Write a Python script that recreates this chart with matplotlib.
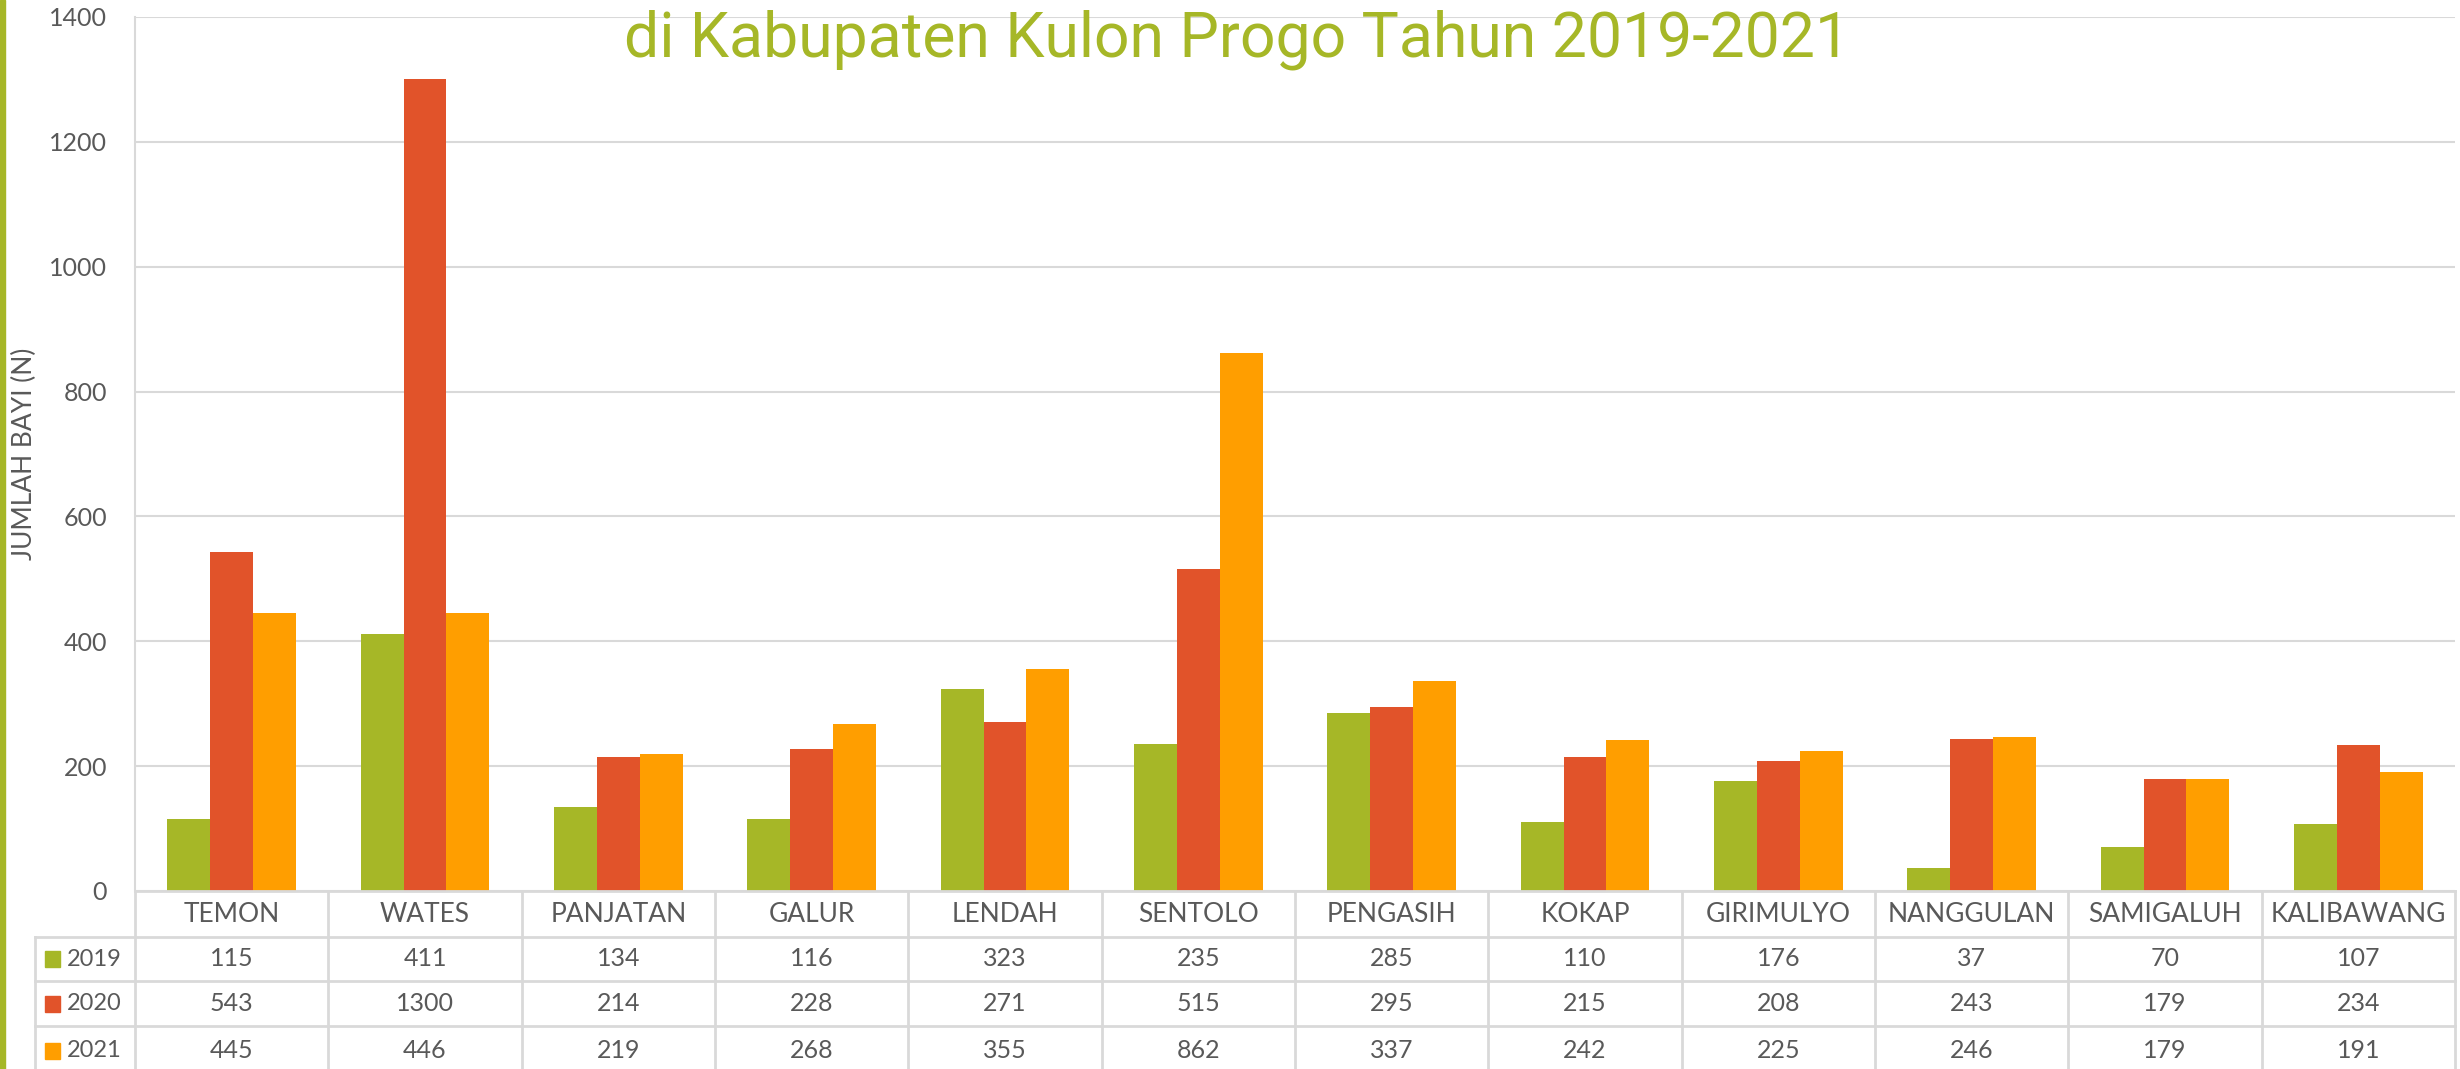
import numpy as np
import matplotlib
matplotlib.use("Agg")
import matplotlib.pyplot as plt
from matplotlib.patches import Rectangle
from matplotlib.lines import Line2D
import matplotlib.transforms as mtransforms

# data
kecamatan = ["TEMON", "WATES", "PANJATAN", "GALUR", "LENDAH", "SENTOLO",
             "PENGASIH", "KOKAP", "GIRIMULYO", "NANGGULAN", "SAMIGALUH", "KALIBAWANG"]
years = ["2019", "2020", "2021"]
bayi_2019 = [115, 411, 134, 116, 323, 235, 285, 110, 176, 37, 70, 107]
bayi_2020 = [543, 1300, 214, 228, 271, 515, 295, 215, 208, 243, 179, 234]
bayi_2021 = [445, 446, 219, 268, 355, 862, 337, 242, 225, 246, 179, 191]
yticks = [0, 200, 400, 600, 800, 1000, 1200, 1400]

series = [bayi_2019, bayi_2020, bayi_2021]
colors = ["#A6B727", "#E1532A", "#FF9E00"]
grey = "#595959"
grid_c = "#D9D9D9"

W, H = 2460, 1069
fig = plt.figure(figsize=(W / 100, H / 100), dpi=100)

def fx(p):
    return p / W

def fy(p):
    return 1 - p / H

plt.rcParams['font.family'] = ['Lato', 'DejaVu Sans']

left, right, top, bottom = 135, 2455, 17, 891
ax = fig.add_axes([fx(left), fy(bottom), fx(right - left), (bottom - top) / H])

x = np.arange(len(kecamatan))
w = 0.222
for i, vals in enumerate(series):
    ax.bar(x + (i - 1) * w, vals, w, color=colors[i], zorder=3)

ax.set_xlim(-0.5, len(kecamatan) - 0.5)
ax.set_ylim(0, 1400)
ax.set_yticks(yticks)
ax.set_yticklabels([str(t) for t in yticks], fontsize=18, color=grey)
ax.tick_params(axis='y', length=0, pad=20)
ax.set_xticks([])
ax.grid(axis='y', color=grid_c, linewidth=1.5, zorder=0)
for s in ["top", "right", "bottom"]:
    ax.spines[s].set_visible(False)
ax.spines["left"].set_color(grid_c)
ax.spines["left"].set_linewidth(1.5)

fig.text(fx(24), fy(454), "JUMLAH BAYI (N)", rotation=90, ha='center', va='center',
         fontsize=19, color=grey)

# title (upper line cut off in the original)
fig.text(fx(1237), fy(57), "di Kabupaten Kulon Progo Tahun 2019-2021",
         ha='center', va='baseline', fontsize=45, color="#A6B727",
         family=['Roboto', 'DejaVu Sans'])

# green bar at left edge
fig.patches.append(Rectangle((0, 0), fx(5), 1, transform=fig.transFigure,
                             color="#A6B727", zorder=5))

# data table below the plot
trans = mtransforms.blended_transform_factory(ax.transData, fig.transFigure)
rows = [891, 937, 981, 1026, 1075]
lw = 2
for r in rows[1:4]:
    fig.lines.append(Line2D([fx(35), fx(right)], [fy(r), fy(r)], transform=fig.transFigure,
                            color=grid_c, lw=lw))
fig.lines.append(Line2D([fx(left), fx(right)], [fy(891), fy(891)], transform=fig.transFigure,
                        color=grid_c, lw=lw))
fig.lines.append(Line2D([fx(35), fx(35)], [fy(937), 0], transform=fig.transFigure,
                        color=grid_c, lw=lw))
for b in np.arange(len(kecamatan) + 1) - 0.5:
    fig.lines.append(Line2D([b, b], [fy(891), 0], transform=trans, color=grid_c, lw=lw))

for i, name in enumerate(kecamatan):
    fig.text(i, fy(914), name, transform=trans, ha='center', va='center',
             fontsize=19, color=grey)

for j, (yr, vals) in enumerate(zip(years, series)):
    yc = (rows[j + 1] + rows[j + 2]) / 2
    fig.patches.append(Rectangle((fx(45), fy(yc + 8)), fx(15), 16 / H,
                                 transform=fig.transFigure, color=colors[j]))
    fig.text(fx(67), fy(yc), yr, ha='left', va='center', fontsize=17, color=grey)
    for i, v in enumerate(vals):
        fig.text(i, fy(yc), str(v), transform=trans, ha='center', va='center',
                 fontsize=18, color=grey)

fig.savefig("out.png", dpi=100)
